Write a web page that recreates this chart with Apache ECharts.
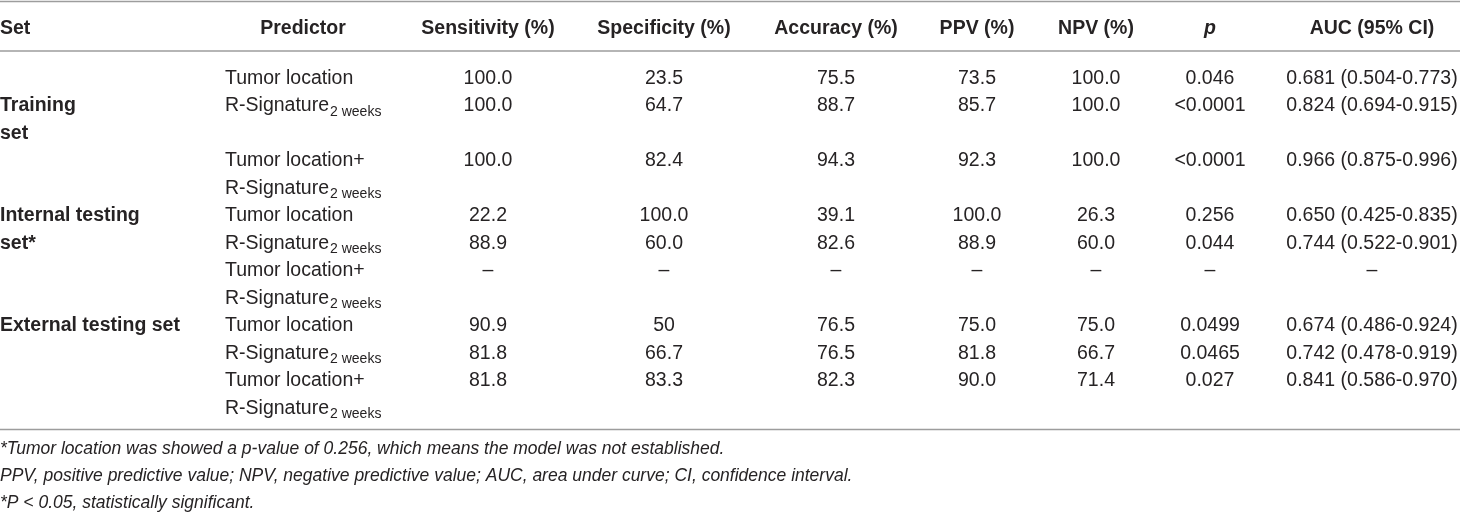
<!DOCTYPE html>
<html>
<head>
<meta charset="utf-8">
<script src="https://cdn.jsdelivr.net/npm/echarts@6/dist/echarts.min.js"></script>
<style>
    html, body { margin: 0; padding: 0; background: #fff; }
    #main { width: 1460px; height: 512px; }
</style>
</head>
<body>
<div id="main"></div>
<script>
// table contents
var headers = ['Set', 'Predictor', 'Sensitivity (%)', 'Specificity (%)', 'Accuracy (%)', 'PPV (%)', 'NPV (%)', 'p', 'AUC (95% CI)'];
var setNames = ['Training\nset', 'Internal testing\nset*', 'External testing set'];
var predictors = [
    'Tumor location', 'R-Signature|2 weeks', 'Tumor location+\nR-Signature|2 weeks',
    'Tumor location', 'R-Signature|2 weeks', 'Tumor location+\nR-Signature|2 weeks',
    'Tumor location', 'R-Signature|2 weeks', 'Tumor location+\nR-Signature|2 weeks'
];
var sensitivity = ['100.0', '100.0', '100.0', '22.2', '88.9', '–', '90.9', '81.8', '81.8'];
var specificity = ['23.5', '64.7', '82.4', '100.0', '60.0', '–', '50', '66.7', '83.3'];
var accuracy = ['75.5', '88.7', '94.3', '39.1', '82.6', '–', '76.5', '76.5', '82.3'];
var ppv = ['73.5', '85.7', '92.3', '100.0', '88.9', '–', '75.0', '81.8', '90.0'];
var npv = ['100.0', '100.0', '100.0', '26.3', '60.0', '–', '75.0', '66.7', '71.4'];
var pValues = ['0.046', '<0.0001', '<0.0001', '0.256', '0.044', '–', '0.0499', '0.0465', '0.027'];
var auc = ['0.681 (0.504-0.773)', '0.824 (0.694-0.915)', '0.966 (0.875-0.996)',
    '0.650 (0.425-0.835)', '0.744 (0.522-0.901)', '–',
    '0.674 (0.486-0.924)', '0.742 (0.478-0.919)', '0.841 (0.586-0.970)'];
var footnotes = [
    '*Tumor location was showed a p-value of 0.256, which means the model was not established.',
    'PPV, positive predictive value; NPV, negative predictive value; AUC, area under curve; CI, confidence interval.',
    '*P < 0.05, statistically significant.'
];

// layout (pixels on the hidden axes)
var colX = [0, 225, 488, 664, 836, 977, 1096, 1210, 1372];
var headerX = [0, 303, 488, 664, 836, 977, 1096, 1210, 1372];
var headerY = 28.5, bodyTop = 78.5, pitch = 27.5, footTop = 449, footPitch = 27;
var rowLine = [0, 1, 3, 5, 6, 7, 9, 10, 11];
var setLine = [1, 5, 9];
var ruleY = [1.5, 51, 429.5];

var textColor = '#262324';
var fontFamily = '"Liberation Sans", Arial, Helvetica, sans-serif';
var bodySize = 19.5;

var cells = [];
function addText(x, y, text, kind, align) {
    cells.push({ value: [x, y], text: text, kind: kind, align: align });
}

headers.forEach(function (h, i) {
    addText(headerX[i], headerY, h, i === 7 ? 'headItalic' : 'head', i === 0 ? 'left' : 'center');
});
setNames.forEach(function (s, i) {
    s.split('\n').forEach(function (part, j) {
        addText(colX[0], bodyTop + (setLine[i] + j) * pitch, part, 'set', 'left');
    });
});
var valueCols = [sensitivity, specificity, accuracy, ppv, npv, pValues, auc];
predictors.forEach(function (p, r) {
    p.split('\n').forEach(function (part, j) {
        addText(colX[1], bodyTop + (rowLine[r] + j) * pitch, part, 'body', 'left');
    });
    valueCols.forEach(function (col, c) {
        addText(colX[c + 2], bodyTop + rowLine[r] * pitch, col[r], 'body', 'center');
    });
});
footnotes.forEach(function (f, i) {
    addText(0, footTop + i * footPitch, f, 'foot', 'left');
});

var fonts = {
    head: 'bold ' + bodySize + 'px ' + fontFamily,
    headItalic: 'italic bold ' + bodySize + 'px ' + fontFamily,
    set: 'bold ' + bodySize + 'px ' + fontFamily,
    body: bodySize + 'px ' + fontFamily,
    foot: 'italic 17.5px ' + fontFamily
};

var chart = echarts.init(document.getElementById('main'));

var option = {
    backgroundColor: '#ffffff',
    animation: false,
    grid: { left: 0, right: 0, top: 0, bottom: 0 },
    xAxis: { type: 'value', min: 0, max: 1460, show: false },
    yAxis: { type: 'value', min: 0, max: 512, inverse: true, show: false },
    series: [{
        type: 'custom',
        name: 'rules',
        data: ruleY.map(function (y) { return [0, y]; }),
        renderItem: function (params, api) {
            var a = api.coord([0, api.value(1)]);
            var b = api.coord([1460, api.value(1)]);
            return {
                type: 'line',
                shape: { x1: a[0], y1: a[1], x2: b[0], y2: b[1] },
                style: { stroke: '#9d9d9d', lineWidth: 1.6 }
            };
        }
    }, {
        type: 'custom',
        name: 'cells',
        data: cells.map(function (c) { return c.value; }),
        renderItem: function (params, api) {
            var cell = cells[params.dataIndex];
            var pt = api.coord([api.value(0), api.value(1)]);
            var style = {
                fill: textColor,
                font: fonts[cell.kind],
                align: cell.align,
                verticalAlign: 'middle'
            };
            if (cell.text.indexOf('|') > -1) {
                var parts = cell.text.split('|');
                style.text = '{m|' + parts[0] + '}{s|' + parts[1] + '}';
                style.rich = {
                    m: { fontSize: bodySize, fontFamily: fontFamily, fill: textColor, lineHeight: 26, verticalAlign: 'middle' },
                    s: { fontSize: 14, fontFamily: fontFamily, fill: textColor, lineHeight: 26, verticalAlign: 'bottom', padding: [0, 0, 0, 1] }
                };
            } else {
                style.text = cell.text;
            }
            return { type: 'text', x: pt[0], y: pt[1], style: style };
        }
    }]
};

chart.setOption(option);
</script>
</body>
</html>
